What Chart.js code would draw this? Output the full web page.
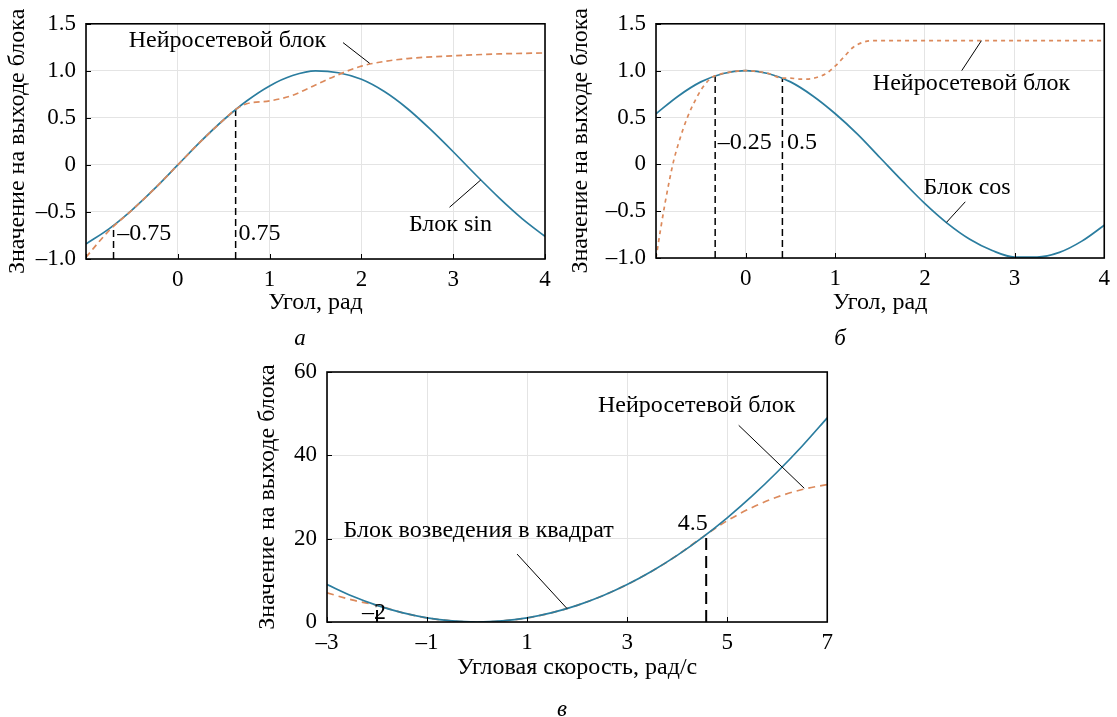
<!DOCTYPE html>
<html><head><meta charset="utf-8">
<script src="https://cdn.jsdelivr.net/npm/chart.js@4/dist/chart.umd.min.js"></script>
<style>
html,body{margin:0;padding:0;background:#fff;width:1117px;height:717px;overflow:hidden;}
.wrap{position:absolute;}
.cap{position:absolute;font-family:"Liberation Serif",serif;font-style:italic;font-size:23px;color:#000;transform:translate(-50%,-50%);line-height:1;}
</style></head><body>
<div class="wrap" style="left:0;top:0;width:560px;height:350px"><canvas id="ca" width="560" height="350"></canvas></div>
<div class="wrap" style="left:560px;top:0;width:557px;height:350px"><canvas id="cb" width="557" height="350"></canvas></div>
<div class="wrap" style="left:240px;top:330px;width:600px;height:387px"><canvas id="cc" width="600" height="387"></canvas></div>
<div class="cap" style="left:300px;top:337px">а</div>
<div class="cap" style="left:840px;top:337px">б</div>
<div class="cap" style="left:562px;top:708px">в</div>
<script>
// ---------- data ----------
const angleX   = [-1,-0.75,-0.5,-0.25,0,0.25,0.5,0.75,1,1.25,1.5,1.75,2,2.25,2.5,2.75,3,3.25,3.5,3.75,4];
const sinBlock = [-0.84,-0.68,-0.48,-0.25,0,0.25,0.48,0.68,0.84,0.95,1.0,0.98,0.91,0.78,0.60,0.38,0.14,-0.11,-0.35,-0.57,-0.76];
const nnSinX   = [-1,-0.75,-0.5,-0.25,0,0.25,0.5,0.63,0.75,1,1.25,1.5,1.75,2,2.25,2.5,3,3.5,4];
const nnSinY   = [-0.98,-0.70,-0.48,-0.25,0,0.25,0.48,0.59,0.65,0.68,0.74,0.85,0.96,1.05,1.10,1.13,1.16,1.18,1.19];
const markSinX = [-0.70,0.63];
const markSinY = [-0.64,0.59];
const markSinLbl = ['–0.75','0.75'];

const cosBlock = [0.54,0.73,0.88,0.97,1.0,0.97,0.88,0.73,0.54,0.32,0.07,-0.18,-0.42,-0.63,-0.80,-0.92,-0.99,-0.99,-0.94,-0.82,-0.65];
const nnCosX   = [-1,-0.95,-0.9,-0.85,-0.8,-0.75,-0.7,-0.65,-0.6,-0.5,-0.4,-0.34,-0.25,0,0.25,0.41,0.5,0.6,0.7,0.8,0.9,1.0,1.1,1.2,1.3,1.4,1.6,2,3,4];
const nnCosY   = [-1.0,-0.70,-0.42,-0.17,0.05,0.22,0.37,0.50,0.61,0.79,0.91,0.945,0.97,1.0,0.97,0.92,0.92,0.91,0.91,0.93,0.97,1.05,1.15,1.25,1.30,1.32,1.32,1.32,1.32,1.32];
const markCosX = [-0.34,0.41];
const markCosY = [0.945,0.92];
const markCosLbl = ['–0.25','0.5'];

const velX     = [-3,-2.5,-2,-1.5,-1,-0.5,0,0.5,1,1.5,2,2.5,3,3.5,4,4.5,5,5.5,6,6.5,7];
const sqBlock  = [9,6.25,4,2.25,1,0.25,0,0.25,1,2.25,4,6.25,9,12.25,16,20.25,25,30.25,36,42.25,49];
const nnSqX    = [-3,-2.5,-2,-1.5,-1,-0.5,0,0.5,1,1.5,2,2.5,3,3.5,4,4.58,5,5.5,6,6.5,7];
const nnSqY    = [7.0,5.3,4.0,2.25,1,0.25,0,0.25,1,2.25,4,6.25,9,12.25,16,21.0,24.3,27.5,30.0,31.8,33.0];
const markSqX  = [-2,4.58];
const markSqY  = [4.0,21.0];
const markSqLbl = ['–2','4.5'];

const tickAngX = ['','0','1','2','3','4'];
const tickAngY = ['–1.0','–0.5','0','0.5','1.0','1.5'];
const tickVelX = ['–3','–1','1','3','5','7'];
const tickVelY = ['0','20','40','60'];

// ---------- helpers ----------
const BLUE = '#2b7d9f', ORANGE = '#dc8a5c';
const FAM = '"Liberation Serif", "Times New Roman", serif';
const TICKFONT = {family:FAM, size:23};
const TITLEFONT = {family:FAM, size:24};
const zip = (xs, ys) => xs.map((x,i)=>({x, y:ys[i]}));

const decor = {
  id:'decor',
  afterDatasetsDraw(chart, args, o){
    const {ctx, chartArea:a, scales:{x,y}} = chart;
    ctx.save();
    ctx.strokeStyle='#000'; ctx.lineWidth=1;
    x.ticks.forEach(t=>{const p=Math.round(x.getPixelForValue(t.value))+0.5;ctx.beginPath();ctx.moveTo(p,a.bottom);ctx.lineTo(p,a.bottom-5);ctx.stroke();});
    y.ticks.forEach(t=>{const p=Math.round(y.getPixelForValue(t.value))+0.5;ctx.beginPath();ctx.moveTo(a.left,p);ctx.lineTo(a.left+5,p);ctx.stroke();});
    ctx.lineWidth=1.6;
    ctx.strokeRect(a.left, a.top, a.width, a.height);
    ctx.lineWidth=1;
    (o.lines||[]).forEach(l=>{ctx.beginPath();ctx.moveTo(x.getPixelForValue(l[0]),y.getPixelForValue(l[1]));ctx.lineTo(x.getPixelForValue(l[2]),y.getPixelForValue(l[3]));ctx.stroke();});
    ctx.fillStyle='#000';
    ctx.font = '24px ' + FAM;
    ctx.textBaseline='middle';
    (o.texts||[]).forEach(t=>{ctx.textAlign=t.align||'center';ctx.fillText(t.text,x.getPixelForValue(t.x),y.getPixelForValue(t.y));});
    ctx.restore();
  }
};

function markerSets(xs, ys, base, dash, width){
  return xs.map((xv,i)=>({data:[{x:xv,y:base},{x:xv,y:ys[i]}],borderColor:'#000',borderWidth:width,borderDash:dash,pointRadius:0,tension:0}));
}

function makeChart(id, cfg){
  return new Chart(document.getElementById(id), {
    type:'line',
    data:{datasets:cfg.datasets},
    options:{
      responsive:false, animation:false, devicePixelRatio:1,
      layout:{padding:cfg.padding},
      plugins:{legend:{display:false},tooltip:{enabled:false},decor:cfg.decor},
      elements:{line:{fill:false}},
      scales:{
        x:{type:'linear',min:cfg.xmin,max:cfg.xmax,
           afterFit(s){s.height=cfg.xh;},
           grid:{color:'#e4e4e4',lineWidth:1,drawTicks:false},
           border:{display:false},
           ticks:{stepSize:cfg.xstep,padding:7,color:'#000',font:TICKFONT,maxRotation:0,autoSkip:false,callback:(v,i)=>cfg.xt[i]},
           title:{display:true,text:cfg.xtitle,color:'#000',font:TITLEFONT,padding:{top:0,bottom:cfg.xtp}}},
        y:{type:'linear',min:cfg.ymin,max:cfg.ymax,
           afterFit(s){s.width=cfg.yw;},
           grid:{color:'#e4e4e4',lineWidth:1,drawTicks:false},
           border:{display:false},
           ticks:{stepSize:cfg.ystep,padding:10,color:'#000',font:TICKFONT,autoSkip:false,callback:(v,i)=>cfg.yt[i]},
           title:{display:true,text:'Значение на выходе блока',color:'#000',font:TITLEFONT,padding:{top:cfg.ytp,bottom:0}}}
      }
    },
    plugins:[decor]
  });
}

// ---------- chart а ----------
makeChart('ca',{
  datasets:[
    {data:zip(nnSinX,nnSinY),borderColor:ORANGE,borderWidth:1.7,borderDash:[6,4],pointRadius:0,cubicInterpolationMode:'monotone'},
    {data:zip(angleX,sinBlock),borderColor:BLUE,borderWidth:1.7,pointRadius:0,cubicInterpolationMode:'monotone'},
    ...markerSets(markSinX,markSinY,-1,[7,4],1.5)
  ],
  padding:{left:0,right:15,top:13,bottom:0},
  xmin:-1,xmax:4,xstep:1,ymin:-1,ymax:1.5,ystep:0.5,xt:tickAngX,yt:tickAngY,
  xh:91,yw:86,xtitle:'Угол, рад',xtp:33,ytp:3,
  decor:{
    texts:[{x:0.54,y:1.32,text:'Нейросетевой блок'},{x:2.97,y:-0.64,text:'Блок sin'},
           {x:markSinX[0]+0.04,y:-0.73,text:markSinLbl[0],align:'left'},{x:markSinX[1]+0.03,y:-0.73,text:markSinLbl[1],align:'left'}],
    lines:[[1.80,1.30,2.09,1.08],[2.96,-0.45,3.30,-0.16]]
  }
});

// ---------- chart б ----------
makeChart('cb',{
  datasets:[
    {data:zip(nnCosX,nnCosY),borderColor:ORANGE,borderWidth:1.7,borderDash:[4,4],pointRadius:0,cubicInterpolationMode:'monotone'},
    {data:zip(angleX,cosBlock),borderColor:BLUE,borderWidth:1.7,pointRadius:0,cubicInterpolationMode:'monotone'},
    ...markerSets(markCosX,markCosY,-1,[7,4],1.5)
  ],
  padding:{left:0,right:9,top:15,bottom:0},
  xmin:-1,xmax:4,xstep:1,ymin:-1,ymax:1.5,ystep:0.5,xt:tickAngX,yt:tickAngY,
  xh:92,yw:96,xtitle:'Угол, рад',xtp:33,ytp:6,
  decor:{
    texts:[{x:2.52,y:0.86,text:'Нейросетевой блок'},{x:2.47,y:-0.245,text:'Блок cos'},
           {x:markCosX[0]+0.03,y:0.23,text:markCosLbl[0],align:'left'},{x:markCosX[1]+0.05,y:0.23,text:markCosLbl[1],align:'left'}],
    lines:[[2.41,1.00,2.63,1.32],[2.45,-0.40,2.24,-0.62]]
  }
});

// ---------- chart в ----------
makeChart('cc',{
  datasets:[
    {data:zip(velX,sqBlock),borderColor:BLUE,borderWidth:1.7,pointRadius:0,cubicInterpolationMode:'monotone'},
    {data:zip(nnSqX,nnSqY),borderColor:ORANGE,borderWidth:1.7,borderDash:[7,5],pointRadius:0,cubicInterpolationMode:'monotone'},
    ...markerSets(markSqX,markSqY,0,[12,6],2)
  ],
  padding:{left:0,right:11,top:42,bottom:0},
  xmin:-3,xmax:7,xstep:2,ymin:0,ymax:60,ystep:20,xt:tickVelX,yt:tickVelY,
  xh:95,yw:87,xtitle:'Угловая скорость, рад/с',xtp:35,ytp:13,
  decor:{
    texts:[{x:4.39,y:52,text:'Нейросетевой блок'},{x:0.03,y:21.8,text:'Блок возведения в квадрат'},
           {x:markSqX[0]-0.06,y:2.2,text:markSqLbl[0]},{x:4.31,y:23.7,text:markSqLbl[1]}],
    lines:[[5.23,47.2,6.54,32.1],[0.80,16.3,1.80,3.2]]
  }
});
</script>
</body></html>
